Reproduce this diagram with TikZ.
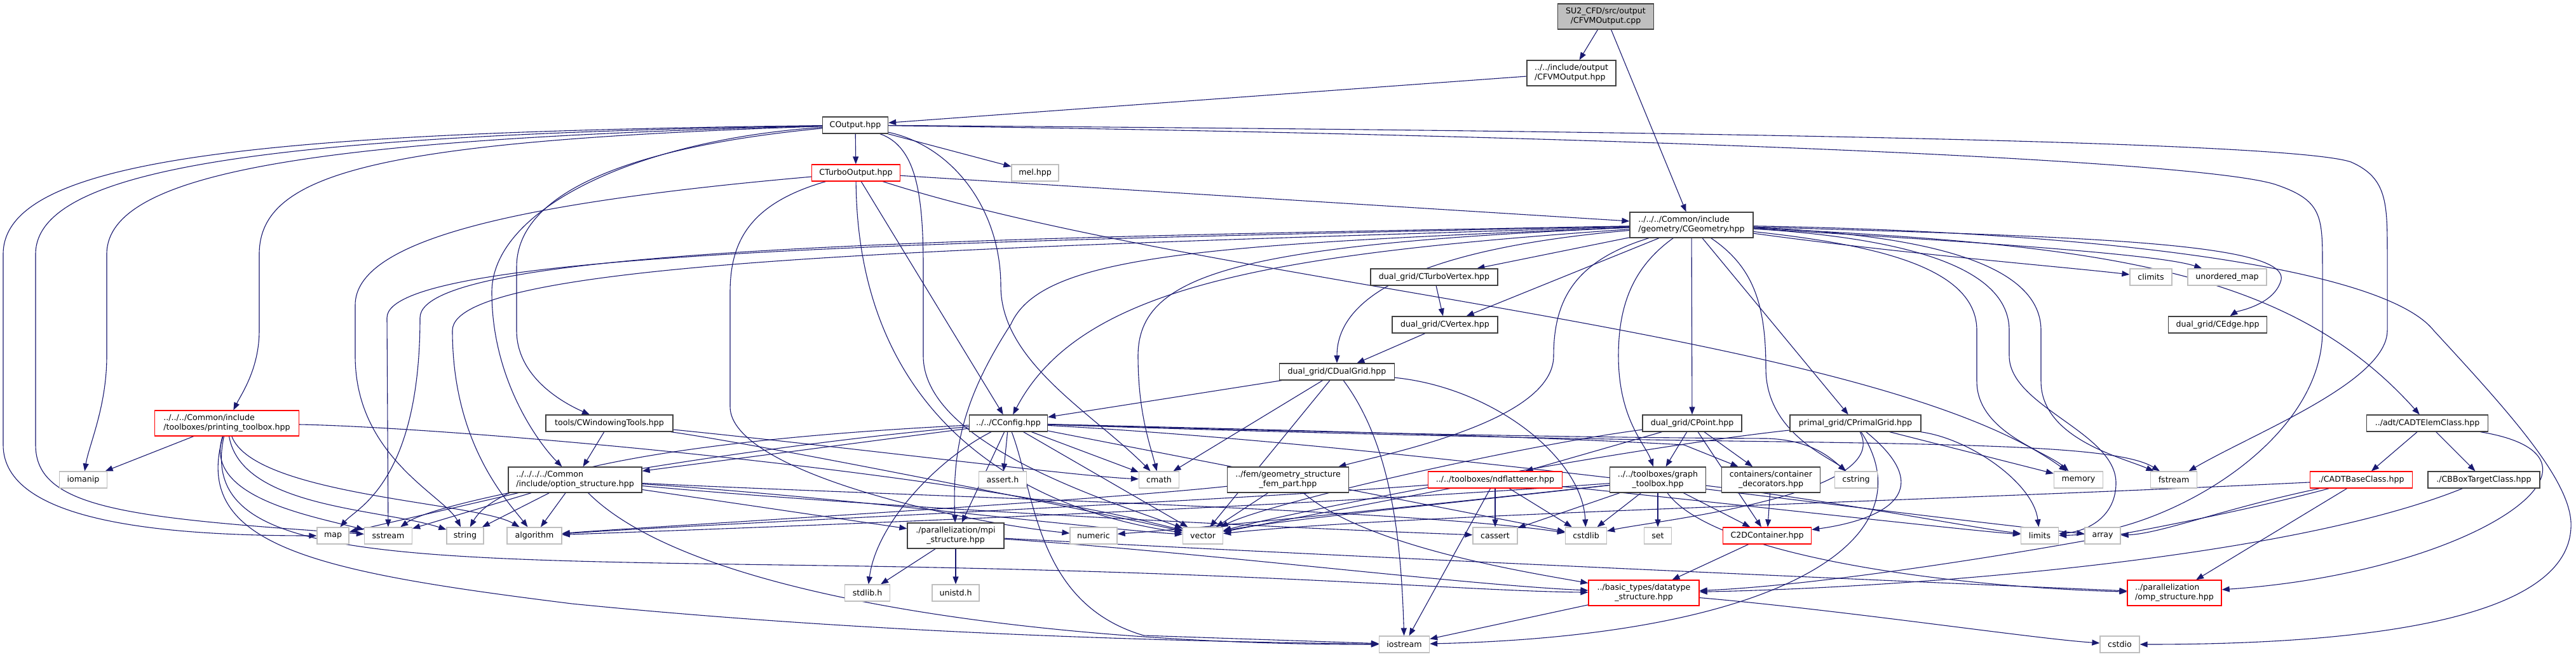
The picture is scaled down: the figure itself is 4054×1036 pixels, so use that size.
\documentclass[tikz,border=0pt]{standalone}
\usepackage{fontspec}
\setmainfont{DejaVu Sans}
\usetikzlibrary{arrows.meta}
\definecolor{edgecol}{RGB}{25,25,112}
\definecolor{darkbd}{RGB}{64,64,64}
\definecolor{graybd}{RGB}{191,191,191}
\pgfdeclarelayer{bg}
\pgfsetlayers{bg,main}
\tikzset{
 nb/.style={draw=darkbd, line width=1.3pt, fill=white, inner sep=0pt, minimum height=26pt, font=\fontsize{12.6}{15}\selectfont, text=black, align=center},
 nr/.style={nb, draw=red},
 ng/.style={nb, draw=graybd},
 nroot/.style={nb, fill=graybd},
 two/.style={minimum height=40pt},
 e/.style={draw=edgecol, line width=1.1pt, -{Triangle[length=12pt,width=9pt]}},
}
\begin{document}
\begin{tikzpicture}[x=1pt,y=-1pt]
\useasboundingbox (0,0) rectangle (4054,1036);
% nodes
\node[nroot,two,minimum width=151pt] (cpp) at (2527,26) {SU2\_CFD/src/output\\/CFVMOutput.cpp};
\node[nb,two,minimum width=140pt,align=left] (fvmhpp) at (2473,115) {../../include/output\\/CFVMOutput.hpp};
\node[nb,minimum width=103pt] (coutput) at (1346,197) {COutput.hpp};
\node[nr,minimum width=139pt] (cturbo) at (1347,272) {CTurboOutput.hpp};
\node[ng,minimum width=74pt] (mel) at (1629,272) {mel.hpp};
\node[nb,two,minimum width=194pt,align=left] (cgeom) at (2662,354) {../../../Common/include\\/geometry/CGeometry.hpp};
\node[nb,minimum width=200pt] (turbovertex) at (2257,436) {dual\_grid/CTurboVertex.hpp};
\node[ng,minimum width=66pt] (climits) at (3385,436) {climits};
\node[ng,minimum width=124pt] (umap) at (3505,436) {unordered\_map};
\node[nb,minimum width=166pt] (cvertex) at (2274,511) {dual\_grid/CVertex.hpp};
\node[nb,minimum width=155pt] (cedge) at (3490,511) {dual\_grid/CEdge.hpp};
\node[nb,minimum width=181pt] (cdualgrid) at (2104,585) {dual\_grid/CDualGrid.hpp};
\node[nr,two,minimum width=227pt,align=left] (printing) at (357,666) {../../../Common/include\\/toolboxes/printing\_toolbox.hpp};
\node[nb,minimum width=200pt] (windowing) at (959,666) {tools/CWindowingTools.hpp};
\node[nb,minimum width=123pt] (cconfig) at (1587,666) {../../CConfig.hpp};
\node[nb,minimum width=156pt] (cpoint) at (2663,666) {dual\_grid/CPoint.hpp};
\node[nb,minimum width=206pt] (cprimal) at (2920,666) {primal\_grid/CPrimalGrid.hpp};
\node[nb,minimum width=191pt] (cadtelem) at (3820,666) {../adt/CADTElemClass.hpp};
\node[ng,minimum width=75pt] (iomanip) at (131,755) {iomanip};
\node[nb,two,minimum width=210pt,align=left] (option) at (905,755) {../../../../Common\\/include/option\_structure.hpp};
\node[ng,minimum width=75pt] (assert) at (1578,755) {assert.h};
\node[ng,minimum width=63pt] (cmath) at (1824,755) {cmath};
\node[nb,two,minimum width=191pt] (fem) at (2027,755) {../fem/geometry\_structure\\\_fem\_part.hpp};
\node[nr,minimum width=211pt] (ndflat) at (2353,755) {../../toolboxes/ndflattener.hpp};
\node[nb,two,minimum width=151pt] (graph) at (2609,755) {../../toolboxes/graph\\\_toolbox.hpp};
\node[nb,two,minimum width=155pt] (decorators) at (2787,755) {containers/container\\\_decorators.hpp};
\node[ng,minimum width=67pt] (cstring) at (2921,755) {cstring};
\node[ng,minimum width=77pt] (memory) at (3271,755) {memory};
\node[ng,minimum width=73pt] (fstream) at (3421,755) {fstream};
\node[nr,minimum width=161pt] (cadtbase) at (3716,755) {./CADTBaseClass.hpp};
\node[nb,minimum width=176pt] (cbbox) at (3909,755) {./CBBoxTargetClass.hpp};
\node[ng,minimum width=50pt] (map) at (524,843) {map};
\node[ng,minimum width=75pt] (sstream) at (611,843) {sstream};
\node[ng,minimum width=58pt] (string) at (732,843) {string};
\node[ng,minimum width=86pt] (algorithm) at (841,843) {algorithm};
\node[nb,two,minimum width=152pt] (mpi) at (1504,843) {./parallelization/mpi\\\_structure.hpp};
\node[ng,minimum width=74pt] (numeric) at (1721,843) {numeric};
\node[ng,minimum width=63pt] (vector) at (1893,843) {vector};
\node[ng,minimum width=70pt] (cassert) at (2353,843) {cassert};
\node[ng,minimum width=65pt] (cstdlib) at (2496,843) {cstdlib};
\node[ng,minimum width=43pt] (set) at (2609,843) {set};
\node[nr,minimum width=139pt] (c2d) at (2781,843) {C2DContainer.hpp};
\node[ng,minimum width=59pt] (limits) at (3210,843) {limits};
\node[ng,minimum width=56pt] (array) at (3309,843) {array};
\node[ng,minimum width=71pt] (stdlib) at (1365,933) {stdlib.h};
\node[ng,minimum width=74pt] (unistd) at (1504,933) {unistd.h};
\node[nr,two,minimum width=174pt] (datatype) at (2587,933) {../basic\_types/datatype\\\_structure.hpp};
\node[nr,two,minimum width=148pt,align=left] (omp) at (3422,933) {../parallelization\\/omp\_structure.hpp};
\node[ng,minimum width=79pt] (iostream) at (2210,1014) {iostream};
\node[ng,minimum width=62pt] (cstdio) at (3336,1014) {cstdio};
% edges
\begin{pgfonlayer}{bg}
\draw[e] (cpp) -- (fvmhpp);
\draw[e] (cpp) -- (cgeom);
\draw[e] (fvmhpp) -- (coutput);
% COutput
\draw[e] (coutput) -- (cturbo);
\draw[e] (coutput) -- (mel);
\draw[e] (coutput) .. controls (400,208) and (5,250) .. (5,400) -- (5,700) .. controls (5,820) and (250,843) .. (map);
\draw[e] (coutput) .. controls (450,212) and (56,260) .. (56,400) -- (56,700) .. controls (56,800) and (200,815) .. (sstream);
\draw[e] (coutput) .. controls (500,218) and (168,270) .. (168,400) -- (168,560) .. controls (168,640) and (140,700) .. (iomanip);
\draw[e] (coutput) .. controls (600,222) and (408,270) .. (408,400) -- (408,520) .. controls (408,580) and (380,620) .. (printing);
\draw[e] (coutput) .. controls (1000,230) and (813,300) .. (813,420) -- (813,520) .. controls (813,600) and (900,640) .. (windowing);
\draw[e] (coutput) .. controls (1000,220) and (774,330) .. (774,460) .. controls (774,600) and (850,700) .. (option);
\draw[e] (coutput) .. controls (1440,230) and (1453,300) .. (1453,420) -- (1453,560) .. controls (1453,700) and (1750,790) .. (vector);
\draw[e] (coutput) .. controls (1500,230) and (1575,330) .. (1575,450) .. controls (1575,570) and (1720,650) .. (cmath);
\draw[e] (coutput) .. controls (2500,205) and (3600,220) .. (3700,255) .. controls (3757,280) and (3757,320) .. (3757,400) -- (3757,520) .. controls (3757,600) and (3550,680) .. (fstream);
\draw[e] (coutput) .. controls (2500,212) and (3450,250) .. (3580,290) .. controls (3655,315) and (3655,340) .. (3655,420) -- (3655,520) .. controls (3655,700) and (3400,840) .. (limits);
% CTurboOutput
\draw[e] (cturbo) -- (cconfig);
\draw[e] (cturbo) -- (cgeom);
\draw[e] (cturbo) .. controls (1900,450) and (2950,520) .. (memory);
\draw[e] (cturbo) .. controls (1350,650) and (1600,800) .. (vector);
\draw[e] (cturbo) .. controls (800,320) and (559,380) .. (559,480) -- (559,560) .. controls (559,720) and (700,780) .. (string);
\draw[e] (cturbo) .. controls (1180,320) and (1149,380) .. (1149,460) -- (1149,640) .. controls (1149,740) and (1500,820) .. (numeric);
% CGeometry
\draw[e] (cgeom) -- (turbovertex);
\draw[e] (cgeom) -- (cvertex);
\draw[e] (cgeom) .. controls (2250,390) and (2104,460) .. (cdualgrid);
\draw[e] (cgeom) -- (cpoint);
\draw[e] (cgeom) .. controls (2570,420) and (2547,480) .. (2547,560) .. controls (2547,660) and (2590,700) .. (graph);
\draw[e] (cgeom) .. controls (2480,410) and (2445,470) .. (2445,560) .. controls (2445,660) and (2200,710) .. (fem);
\draw[e] (cgeom) -- (cprimal);
\draw[e] (cgeom) .. controls (2760,420) and (2779,480) .. (2779,580) .. controls (2779,680) and (2880,720) .. (cstring);
\draw[e] (cgeom) .. controls (2950,385) and (3111,420) .. (3111,520) -- (3111,600) .. controls (3111,680) and (3220,710) .. (memory);
\draw[e] (cgeom) .. controls (3000,375) and (3162,420) .. (3162,520) -- (3162,560) .. controls (3162,640) and (3330,680) .. (3330,760) .. controls (3330,810) and (3290,835) .. (limits);
\draw[e] (cgeom) .. controls (3050,370) and (3212,420) .. (3212,520) -- (3212,600) .. controls (3212,690) and (3340,720) .. (fstream);
\draw[e] (cgeom) .. controls (3000,400) and (3250,420) .. (climits);
\draw[e] (cgeom) .. controls (3100,380) and (3400,400) .. (umap);
\draw[e] (cgeom) .. controls (3250,372) and (3600,380) .. (3590,440) .. controls (3580,480) and (3520,490) .. (cedge);
\draw[e] (cgeom) .. controls (3300,385) and (3600,420) .. (cadtelem);
\draw[e] (cgeom) .. controls (3300,365) and (3750,420) .. (3830,520) .. controls (3950,650) and (4050,760) .. (4046,830) .. controls (4040,980) and (3700,1014) .. (cstdio);
\draw[e] (cgeom) .. controls (2000,400) and (1700,450) .. (cconfig);
\draw[e] (cgeom) .. controls (1900,385) and (1640,400) .. (1591,510) .. controls (1520,620) and (1498,700) .. (mpi);
\draw[e] (cgeom) .. controls (1950,385) and (1791,430) .. (1791,560) .. controls (1791,650) and (1810,700) .. (cmath);
\draw[e] (cgeom) .. controls (1500,380) and (609,395) .. (609,500) -- (sstream);
\draw[e] (cgeom) .. controls (1500,375) and (661,390) .. (661,500) .. controls (661,760) and (560,800) .. (map);
\draw[e] (cgeom) .. controls (1500,390) and (712,410) .. (712,520) .. controls (712,700) and (800,790) .. (algorithm);
% CConfig
\draw[e] (cconfig) -- (option);
\draw[e] (cconfig) .. controls (1200,700) and (700,780) .. (sstream);
\draw[e] (cconfig) .. controls (1100,690) and (790,740) .. (string);
\draw[e] (cconfig) -- (assert);
\draw[e] (cconfig) -- (mpi);
\draw[e] (cconfig) .. controls (1480,720) and (1380,820) .. (stdlib);
\draw[e] (cconfig) -- (cmath);
\draw[e] (cconfig) -- (vector);
\draw[e] (cconfig) .. controls (1630,780) and (1630,950) .. (1800,1000) -- (iostream);
\draw[e] (cconfig) .. controls (2000,680) and (2400,690) .. (2800,695) .. controls (3150,700) and (3340,705) .. (fstream);
\draw[e] (cconfig) .. controls (2000,678) and (2400,688) .. (2780,690) .. controls (2850,692) and (2880,720) .. (cstring);
\draw[e] (cconfig) .. controls (2000,676) and (2400,686) .. (2650,700) -- (decorators);
\draw[e] (cconfig) .. controls (2200,700) and (2900,800) .. (array);
\draw[e] (cconfig) -- (cstdlib);
% CWindowingTools
\draw[e] (windowing) -- (option);
\draw[e] (windowing) .. controls (1300,700) and (1700,750) .. (cmath);
\draw[e] (windowing) .. controls (1200,700) and (1700,800) .. (vector);
% option_structure
\draw[e] (option) -- (mpi);
\draw[e] (option) -- (string);
\draw[e] (option) -- (algorithm);
\draw[e] (option) -- (map);
\draw[e] (option) -- (sstream);
\draw[e] (option) .. controls (1100,950) and (1700,1015) .. (iostream);
\draw[e] (option) .. controls (1300,780) and (1700,830) .. (vector);
\draw[e] (option) .. controls (1400,780) and (2200,800) .. (cstdlib);
\draw[e] (option) .. controls (1400,800) and (2000,830) .. (cassert);
% printing_toolbox
\draw[e] (printing) -- (iomanip);
\draw[e] (printing) .. controls (300,860) and (500,900) .. (900,950) .. controls (1400,1000) and (1900,1010) .. (iostream);
\draw[e] (printing) .. controls (320,780) and (480,810) .. (sstream);
\draw[e] (printing) .. controls (380,800) and (600,800) .. (string);
\draw[e] (printing) .. controls (400,780) and (750,790) .. (algorithm);
\draw[e] (printing) .. controls (700,672) and (1500,740) .. (vector);
\draw[e] (printing) .. controls (310,880) and (600,880) .. (1300,890) .. controls (2000,900) and (2300,930) .. (datatype);
% mpi_structure
\draw[e] (mpi) -- (stdlib);
\draw[e] (mpi) -- (unistd);
\draw[e] (mpi) .. controls (1900,870) and (2300,920) .. (datatype);
\draw[e] (mpi) .. controls (2200,880) and (3000,915) .. (omp);
% CDualGrid
\draw[e] (cdualgrid) -- (cconfig);
\draw[e] (cdualgrid) -- (cmath);
\draw[e] (cdualgrid) -- (vector);
\draw[e] (cdualgrid) .. controls (2190,700) and (2205,850) .. (iostream);
\draw[e] (cdualgrid) .. controls (2350,610) and (2490,720) .. (cstdlib);
\draw[e] (cvertex) -- (cdualgrid);
\draw[e] (turbovertex) -- (cvertex);
% CPoint
\draw[e] (cpoint) -- (graph);
\draw[e] (cpoint) -- (ndflat);
\draw[e] (cpoint) -- (decorators);
\draw[e] (cpoint) -- (c2d);
\draw[e] (cpoint) .. controls (2400,700) and (2000,790) .. (vector);
% CPrimalGrid
\draw[e] (cprimal) -- (memory);
\draw[e] (cprimal) .. controls (3100,690) and (3200,760) .. (limits);
\draw[e] (cprimal) .. controls (3060,780) and (2950,820) .. (c2d);
\draw[e] (cprimal) .. controls (3040,850) and (2800,1000) .. (iostream);
\draw[e] (cprimal) .. controls (2600,700) and (2100,790) .. (vector);
\draw[e] (cprimal) .. controls (2980,780) and (2600,820) .. (cstdlib);
% graph_toolbox
\draw[e] (graph) -- (set);
\draw[e] (graph) -- (cassert);
\draw[e] (graph) -- (cstdlib);
\draw[e] (graph) .. controls (2300,790) and (2000,820) .. (vector);
\draw[e] (graph) .. controls (2900,790) and (3100,830) .. (limits);
\draw[e] (graph) -- (c2d);
\draw[e] (graph) .. controls (2700,880) and (3100,925) .. (omp);
\draw[e] (graph) .. controls (2000,800) and (1200,830) .. (algorithm);
\draw[e] (graph) .. controls (2200,800) and (1900,830) .. (numeric);
% ndflattener
\draw[e] (ndflat) -- (cassert);
\draw[e] (ndflat) -- (iostream);
\draw[e] (ndflat) -- (vector);
\draw[e] (ndflat) -- (cstdlib);
\draw[e] (ndflat) .. controls (2700,790) and (3100,835) .. (limits);
\draw[e] (ndflat) .. controls (1900,790) and (1100,825) .. (algorithm);
% fem
\draw[e] (fem) -- (vector);
\draw[e] (fem) .. controls (2150,860) and (2400,900) .. (datatype);
\draw[e] (fem) .. controls (1700,790) and (1000,830) .. (algorithm);
% others
\draw[e] (decorators) -- (c2d);
\draw[e] (c2d) -- (datatype);
\draw[e] (datatype) -- (iostream);
\draw[e] (datatype) .. controls (2900,960) and (3200,1005) .. (cstdio);
\draw[e] (cadtelem) -- (cadtbase);
\draw[e] (cadtelem) -- (cbbox);
\draw[e] (cadtelem) .. controls (4150,720) and (3900,900) .. (omp);
\draw[e] (cadtbase) -- (omp);
\draw[e] (cadtbase) .. controls (3400,840) and (2900,920) .. (datatype);
\draw[e] (cadtbase) .. controls (3500,800) and (3400,840) .. (array);
\draw[e] (cadtbase) .. controls (3000,790) and (2200,810) .. (vector);
\draw[e] (cbbox) .. controls (3600,880) and (3000,925) .. (datatype);
\end{pgfonlayer}
\end{tikzpicture}
\end{document}
